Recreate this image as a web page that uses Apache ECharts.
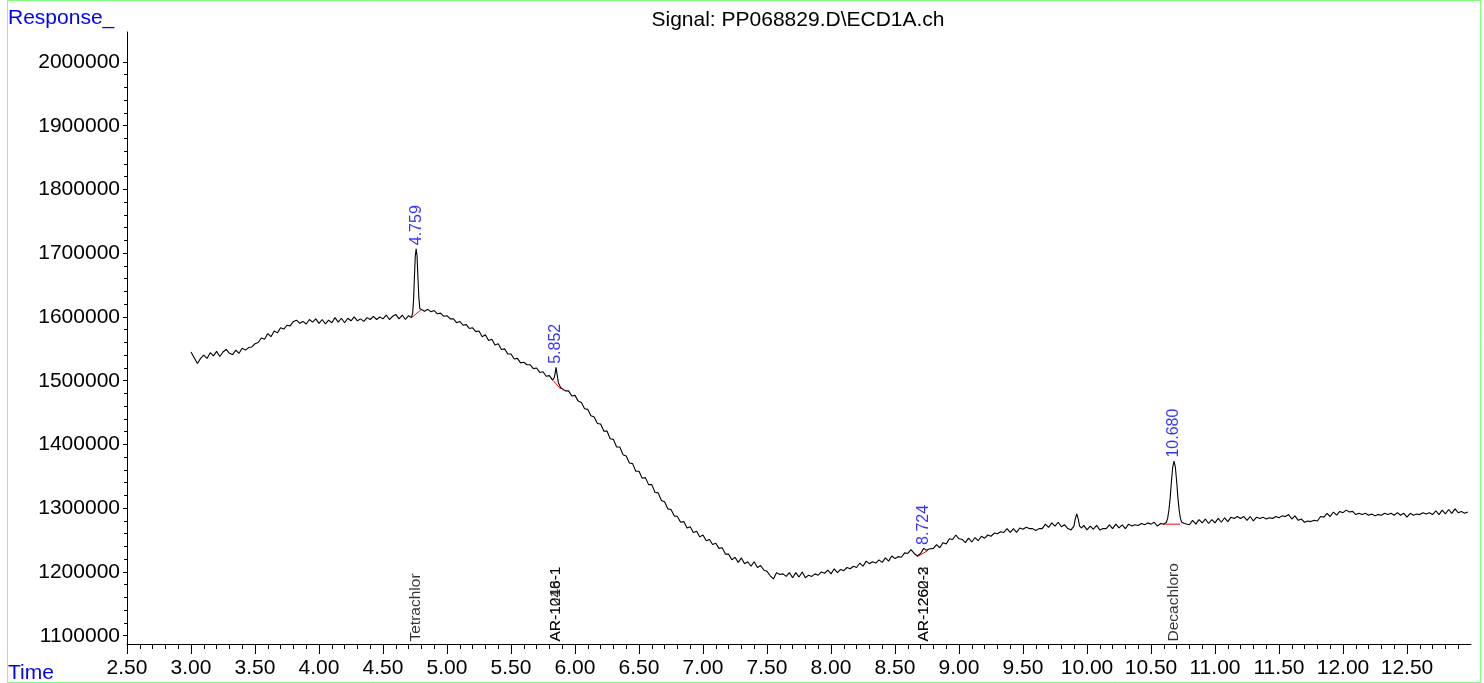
<!DOCTYPE html>
<html>
<head>
<meta charset="utf-8">
<script src="https://cdn.jsdelivr.net/npm/echarts@6/dist/echarts.min.js"></script>
<style>
  html, body { margin: 0; padding: 0; background: #ffffff; }
  #chart { width: 1484px; height: 683px; }
</style>
</head>
<body>
<div id="chart"></div>
<script>
// ECD signal, one sample every 0.025 min starting at 3.000 min, in thousands of counts
const signalStart = 3.0;
const signalStep = 0.025;
const signalK = [
  1545,1536,1527,1535,1540,1535,1544,1539,1546,1538,1545,1549,1543,1541,1548,1543,1551,1548,1552,1553,
  1558,1560,1567,1565,1574,1569,1578,1575,1583,1581,1587,1586,1593,1595,1590,1593,1589,1596,1592,1597,
  1590,1596,1589,1595,1591,1599,1592,1598,1591,1598,1594,1600,1594,1597,1593,1599,1596,1601,1596,1600,
  1597,1603,1596,1601,1604,1597,1603,1596,1602,1596,1603,1607,1611,1609,1612,1608,1610,1605,1606,1601,
  1602,1597,1597,1591,1593,1587,1588,1582,1583,1577,1578,1569,1572,1563,1565,1556,1558,1549,1550,1542,
  1542,1534,1535,1528,1529,1525,1525,1519,1520,1513,1514,1507,1508,1501,1497,1492,1490,1484,1484,1476,
  1477,1468,1466,1456,1455,1445,1443,1433,1432,1421,1421,1409,1408,1396,1396,1384,1382,1371,1370,1358,
  1358,1347,1348,1337,1337,1325,1324,1312,1310,1299,1298,1288,1287,1278,1279,1269,1271,1262,1264,1255,
  1258,1249,1251,1243,1245,1237,1238,1228,1228,1219,1223,1215,1222,1213,1216,1209,1216,1207,1210,1203,
  1201,1194,1189,1199,1196,1197,1193,1199,1191,1199,1192,1200,1191,1195,1193,1197,1195,1200,1198,1203,
  1197,1205,1199,1204,1202,1207,1205,1209,1207,1214,1209,1217,1213,1216,1214,1219,1215,1222,1217,1225,
  1221,1224,1223,1230,1229,1235,1229,1225,1230,1234,1235,1238,1237,1243,1238,1246,1244,1252,1251,1258,
  1252,1251,1246,1253,1247,1254,1249,1256,1253,1258,1256,1261,1260,1263,1262,1268,1262,1268,1262,1269,
  1267,1270,1268,1268,1265,1268,1268,1275,1270,1277,1272,1278,1271,1274,1268,1266,1268,1269,1267,1273,
  1266,1272,1267,1273,1266,1268,1268,1274,1268,1275,1269,1274,1268,1275,1272,1274,1273,1276,1274,1277,
  1275,1278,1272,1276,1275,1276,1276,1276,1276,1276,1276,1278,1274,1281,1275,1282,1277,1283,1276,1282,
  1277,1284,1278,1285,1279,1286,1284,1287,1284,1287,1281,1287,1280,1286,1284,1286,1283,1285,1284,1287,
  1285,1288,1287,1290,1283,1288,1281,1283,1278,1280,1279,1281,1280,1287,1286,1292,1287,1294,1289,1295,
  1293,1297,1294,1295,1290,1292,1290,1292,1289,1291,1288,1290,1289,1292,1290,1292,1289,1293,1289,1292,
  1286,1292,1289,1291,1290,1293,1291,1293,1290,1296,1290,1297,1291,1298,1292,1299,1293,1295,1292,1294
];

// Peak profiles as [time (min), thousands of counts]
const peak1 = [[4.722,1599],[4.732,1606],[4.739,1628],[4.745,1660],[4.752,1695],[4.759,1707],
               [4.766,1696],[4.773,1662],[4.780,1630],[4.788,1613],[4.797,1610]];
const peak2 = [[5.828,1501],[5.838,1505],[5.845,1512],[5.852,1521],[5.860,1510],[5.870,1497],[5.888,1489]];
const peak3 = [[8.680,1225],[8.700,1229],[8.724,1237],[8.745,1234],[8.768,1236]];
const peak4 = [[9.880,1268],[9.898,1272],[9.908,1283],[9.920,1291],[9.932,1283],[9.942,1272],[9.958,1269]];
const peak5 = [[10.600,1275],[10.620,1278],[10.630,1284],[10.640,1297],[10.650,1317],[10.660,1343],
               [10.670,1365],[10.680,1374],[10.690,1365],[10.700,1343],[10.710,1317],[10.720,1297],
               [10.730,1284],[10.740,1278],[10.760,1276]];
const peakProfiles = [peak1, peak2, peak3, peak4, peak5];
const peakLabelled = [true, true, true, false, true];

// Integration baselines drawn under the integrated peaks
const baselineSegs = [
  [[4.724,1599],[4.795,1611]],
  [[5.830,1500],[5.888,1487]],
  [[8.674,1224],[8.760,1234]],
  [[10.596,1275],[10.727,1275]]
];

// Expected retention times of the target compounds
const compoundNames = ['Tetrachlor', 'AR-1016-1', 'AR-1248-1', 'AR-1260-2', 'AR-1262-3', 'Decachloro'];
const compoundTimes = [4.759, 5.852, 5.852, 8.724, 8.724, 10.680];

// Axis ticks
const xTickValues = [2.5,3.0,3.5,4.0,4.5,5.0,5.5,6.0,6.5,7.0,7.5,8.0,8.5,9.0,9.5,10.0,10.5,11.0,11.5,12.0,12.5];
const yTickValues = [1100000,1200000,1300000,1400000,1500000,1600000,1700000,1800000,1900000,2000000];

const X_MIN = 2.5, X_MAX = 13.0;
const Y_MIN = 1087000, Y_MAX = 2047000;
const FONT = '"Liberation Sans", Arial, sans-serif';

// Minor ticks: five divisions between major ticks
const xMinor = [];
for (let k = 26; k <= 129; k++) if (k % 5 !== 0) xMinor.push(k / 10);
const yMinor = [];
for (let k = 56; k < 100; k++) if (k % 5 !== 0) yMinor.push(k * 20000);

// Merge the sampled trace with the peak profiles
const windows = peakProfiles.map(p => [p[0][0], p[p.length - 1][0]]);
const trace = [];
signalK.forEach((v, i) => {
  const t = +(signalStart + i * signalStep).toFixed(3);
  if (windows.some(w => t >= w[0] && t <= w[1])) return;
  trace.push([t, v * 1000]);
});
peakProfiles.forEach(p => p.forEach(pt => trace.push([pt[0], pt[1] * 1000])));
trace.sort((a, b) => a[0] - b[0]);

const apexPoints = [];
peakProfiles.forEach((p, i) => {
  if (!peakLabelled[i]) return;
  const top = p.reduce((a, b) => (b[1] > a[1] ? b : a));
  apexPoints.push([top[0], top[1] * 1000]);
});

const compoundPoints = compoundNames.map((n, i) => ({ name: n, value: [compoundTimes[i], Y_MIN] }));

const baselineSeries = baselineSegs.map(seg => ({
  type: 'line',
  data: seg.map(p => [p[0], p[1] * 1000]),
  symbol: 'none',
  lineStyle: { color: '#ff0000', width: 1 },
  z: 4,
  silent: true
}));

const chart = echarts.init(document.getElementById('chart'), null, { renderer: 'canvas' });
chart.setOption({
  animation: false,
  backgroundColor: '#ffffff',
  grid: { left: 127, right: 13, top: 32, bottom: 39, containLabel: false },
  xAxis: [
    {
      type: 'value', min: X_MIN, max: X_MAX, position: 'bottom',
      axisLine: { onZero: false, lineStyle: { color: '#000', width: 1 } },
      splitLine: { show: false },
      axisTick: { customValues: xTickValues, length: 10, lineStyle: { color: '#000' } },
      axisLabel: { customValues: xTickValues, formatter: v => v.toFixed(2), color: '#000',
                   fontSize: 21, fontFamily: FONT, margin: 14 }
    },
    {
      type: 'value', min: X_MIN, max: X_MAX, position: 'bottom',
      axisLine: { show: false, onZero: false },
      splitLine: { show: false },
      axisTick: { customValues: xMinor, length: 5, lineStyle: { color: '#000' } },
      axisLabel: { show: false }
    }
  ],
  yAxis: [
    {
      type: 'value', min: Y_MIN, max: Y_MAX, position: 'left',
      axisLine: { show: true, onZero: false, lineStyle: { color: '#000', width: 1 } },
      splitLine: { show: false },
      axisTick: { customValues: yTickValues, length: 4, lineStyle: { color: '#000' } },
      axisLabel: { customValues: yTickValues, formatter: v => String(v), color: '#000',
                   fontSize: 21, fontFamily: FONT, margin: 7 }
    },
    {
      type: 'value', min: Y_MIN, max: Y_MAX, position: 'left',
      axisLine: { show: false, onZero: false },
      splitLine: { show: false },
      axisTick: { customValues: yMinor, length: 3, lineStyle: { color: '#000' } },
      axisLabel: { show: false }
    }
  ],
  series: [
    {
      type: 'line',
      name: 'ECD1A',
      data: trace,
      symbol: 'none',
      lineStyle: { color: '#000000', width: 1.1 },
      z: 3,
      silent: true
    },
    ...baselineSeries,
    {
      type: 'scatter',
      data: apexPoints,
      symbolSize: 1,
      itemStyle: { color: 'rgba(0,0,0,0)' },
      silent: true,
      z: 5,
      label: {
        show: true, position: 'top', distance: 3, rotate: 90,
        align: 'left', verticalAlign: 'middle',
        formatter: p => p.value[0].toFixed(3),
        color: '#0000ff', fontSize: 16, fontFamily: FONT
      }
    },
    {
      type: 'scatter',
      data: compoundPoints,
      symbolSize: 1,
      itemStyle: { color: 'rgba(0,0,0,0)' },
      silent: true,
      z: 5,
      label: {
        show: true, position: 'top', distance: 2, rotate: 90,
        align: 'left', verticalAlign: 'middle',
        formatter: p => p.name,
        color: '#000000', fontSize: 15.5, fontFamily: FONT
      }
    }
  ],
  graphic: [
    { type: 'rect', shape: { x: 7.5, y: 0.5, width: 1473, height: 682 },
      style: { fill: 'none', stroke: '#80ff80', lineWidth: 1 }, silent: true, z: 10 },
    { type: 'text', x: 8, y: 18,
      style: { text: 'Response_', fill: '#0000ff', font: '21px ' + FONT, align: 'left', verticalAlign: 'middle' } },
    { type: 'text', x: 8, y: 673,
      style: { text: 'Time', fill: '#0000ff', font: '21px ' + FONT, align: 'left', verticalAlign: 'middle' } },
    { type: 'text', x: 798, y: 20,
      style: { text: 'Signal: PP068829.D\\ECD1A.ch', fill: '#000000', font: '21px ' + FONT, align: 'center', verticalAlign: 'middle' } }
  ]
});
</script>
</body>
</html>
